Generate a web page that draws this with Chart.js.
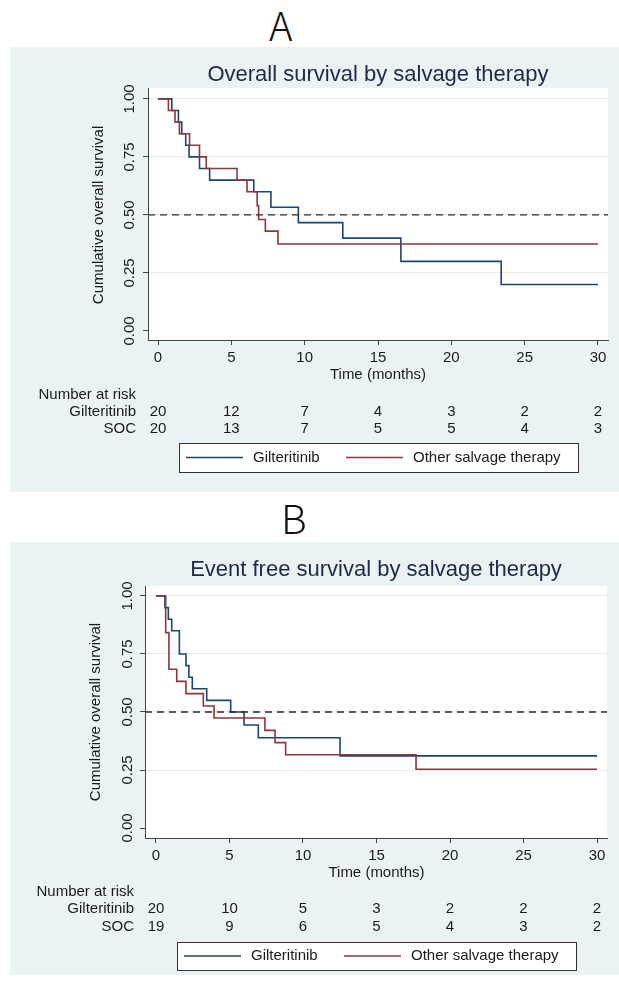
<!DOCTYPE html>
<html>
<head>
<meta charset="utf-8">
<script src="https://cdn.jsdelivr.net/npm/chart.js@4.4.1/dist/chart.umd.min.js"></script>
<style>
  body { margin: 0; width: 619px; height: 985px; background: #fff; position: relative; overflow: hidden; }
  .letter { position: absolute; font-family: "Noto Sans CJK SC", "Noto Sans", sans-serif; font-weight: 300; font-size: 40px; line-height: 40px; color: #111; }
  .panel { position: absolute; left: 10px; width: 609px; background: #eaf2f3; }
  canvas { display: block; }
</style>
</head>
<body>
<div class="letter" style="left:269px; top:4px;">A</div>
<div class="panel" style="top:47px; height:445px;"><canvas id="osChart" width="609" height="445"></canvas></div>
<div class="letter" style="left:281px; top:497px;">B</div>
<div class="panel" style="top:542px; height:433px;"><canvas id="efsChart" width="609" height="433"></canvas></div>

<script>
const timeTicks = [0, 5, 10, 15, 20, 25, 30];
const survTicks = [0, 0.25, 0.5, 0.75, 1];
const survTickLabels = ["0.00", "0.25", "0.50", "0.75", "1.00"];
const seriesNames = ["Gilteritinib", "Other salvage therapy"];
const riskRowLabels = ["Gilteritinib", "SOC"];

// A - overall survival (months, survival after each drop)
const osGilTime = [0, 0.94, 1.39, 1.62, 1.89, 2.12, 2.83, 3.52, 6.53, 7.7, 9.57, 12.6, 16.56, 23.4, 30];
const osGilSurv = [1, 0.95, 0.90, 0.85, 0.80, 0.75, 0.70, 0.65, 0.60, 0.533, 0.467, 0.40, 0.30, 0.20, 0.20];
const osSocTime = [0, 0.71, 1.16, 1.46, 2.15, 2.83, 3.29, 5.39, 6.07, 6.76, 6.86, 7.32, 8.18, 30];
const osSocSurv = [1, 0.95, 0.90, 0.85, 0.80, 0.75, 0.70, 0.65, 0.60, 0.54, 0.48, 0.43, 0.375, 0.375];
const osRiskGil = [20, 12, 7, 4, 3, 2, 2];
const osRiskSoc = [20, 13, 7, 5, 5, 4, 3];

// B - event free survival
const efsGilTime = [0, 0.61, 0.84, 1.07, 1.59, 2.04, 2.24, 2.47, 3.45, 5.08, 5.99, 6.96, 12.52, 30];
const efsGilSurv = [1, 0.95, 0.90, 0.85, 0.75, 0.70, 0.65, 0.60, 0.55, 0.50, 0.444, 0.389, 0.311, 0.311];
const efsSocTime = [0, 0.66, 0.88, 1.41, 2.04, 3.22, 3.95, 7.41, 8.10, 8.82, 17.69, 30];
const efsSocSurv = [1, 0.842, 0.684, 0.632, 0.579, 0.526, 0.474, 0.421, 0.368, 0.316, 0.253, 0.253];
const efsRiskGil = [20, 10, 5, 3, 2, 2, 2];
const efsRiskSoc = [19, 9, 6, 5, 4, 3, 2];

const FONT = '"Liberation Sans", Arial, sans-serif';
const BLUE = "#1a476f";
const RED = "#90353b";
const INK = "#1b1b1b";
const TXT = "15px " + FONT;

function km(times, surv) {
  return times.map((t, i) => ({ x: t, y: surv[i] }));
}

function drawPanel(id, p) {
  const canvas = document.getElementById(id);

  // stata-like extras: white plot region, rotated y labels, titles, risk table, legend box
  const stataLook = {
    id: "stataLook",
    beforeDraw(chart) {
      const a = chart.chartArea, ctx = chart.ctx;
      ctx.save();
      ctx.fillStyle = "#fff";
      ctx.fillRect(a.left, a.top, a.right - a.left, a.bottom - a.top);
      ctx.restore();
    },
    afterDraw(chart) {
      const ctx = chart.ctx;
      const xs = chart.scales.x, ys = chart.scales.y;
      const a = chart.chartArea;
      ctx.save();

      // title
      ctx.fillStyle = "#1c2a48";
      ctx.font = "22px " + FONT;
      ctx.textAlign = "center";
      ctx.textBaseline = "middle";
      ctx.fillText(p.title, (a.left + a.right) / 2, p.titleY);

      // y tick labels, rotated
      ctx.fillStyle = INK;
      ctx.font = TXT;
      survTicks.forEach((v, i) => {
        ctx.save();
        ctx.translate(p.yLabX, ys.getPixelForValue(v));
        ctx.rotate(-Math.PI / 2);
        ctx.fillText(survTickLabels[i], 0, 0);
        ctx.restore();
      });

      // y axis title
      ctx.save();
      ctx.translate(p.yTitleX, (ys.getPixelForValue(0) + ys.getPixelForValue(1)) / 2);
      ctx.rotate(-Math.PI / 2);
      ctx.fillText("Cumulative overall survival", 0, 0);
      ctx.restore();

      // x axis title
      ctx.fillText("Time (months)", xs.getPixelForValue(15), p.xTitleY);

      // number at risk
      ctx.textAlign = "right";
      ctx.fillText("Number at risk", p.rowLabX, p.riskY[0]);
      ctx.fillText(riskRowLabels[0], p.rowLabX, p.riskY[1]);
      ctx.fillText(riskRowLabels[1], p.rowLabX, p.riskY[2]);
      ctx.textAlign = "center";
      timeTicks.forEach((t, i) => {
        const x = xs.getPixelForValue(t);
        ctx.fillText(String(p.riskGil[i]), x, p.riskY[1]);
        ctx.fillText(String(p.riskSoc[i]), x, p.riskY[2]);
      });

      // legend box
      const lg = p.legend;
      ctx.fillStyle = "#fff";
      ctx.fillRect(lg.x, lg.y, lg.w, lg.h);
      ctx.strokeStyle = "#333";
      ctx.lineWidth = 1;
      ctx.strokeRect(lg.x + 0.5, lg.y + 0.5, lg.w, lg.h);
      const cy = lg.y + lg.h / 2;
      ctx.lineWidth = 1.6;
      ctx.strokeStyle = BLUE;
      ctx.beginPath(); ctx.moveTo(lg.x + 7, cy); ctx.lineTo(lg.x + 64, cy); ctx.stroke();
      ctx.strokeStyle = RED;
      ctx.beginPath(); ctx.moveTo(lg.x + 167, cy); ctx.lineTo(lg.x + 224, cy); ctx.stroke();
      ctx.fillStyle = INK;
      ctx.textAlign = "left";
      ctx.fillText(seriesNames[0], lg.x + 74, cy);
      ctx.fillText(seriesNames[1], lg.x + 234, cy);
      ctx.restore();
    }
  };

  new Chart(canvas, {
    type: "line",
    data: {
      datasets: [
        {
          label: "ref",
          data: [{ x: p.xMin, y: 0.5 }, { x: p.xMax, y: 0.5 }],
          borderColor: "#2b2b2b",
          borderDash: [7, 5],
          borderWidth: 1.3,
          pointRadius: 0
        },
        {
          label: seriesNames[1],
          data: km(p.socTime, p.socSurv),
          borderColor: RED,
          borderWidth: 1.6,
          stepped: "before",
          pointRadius: 0,
          fill: false
        },
        {
          label: seriesNames[0],
          data: km(p.gilTime, p.gilSurv),
          borderColor: BLUE,
          borderWidth: 1.6,
          stepped: "before",
          pointRadius: 0,
          fill: false
        }
      ]
    },
    options: {
      responsive: false,
      animation: false,
      layout: { padding: { left: 0, top: p.top, right: canvas.width - p.right, bottom: 0 } },
      plugins: { legend: { display: false }, tooltip: { enabled: false } },
      scales: {
        x: {
          type: "linear",
          min: p.xMin,
          max: p.xMax,
          afterBuildTicks: s => { s.ticks = timeTicks.map(v => ({ value: v })); },
          afterFit: s => { s.height = canvas.height - p.bottom; },
          ticks: { color: INK, font: { size: 15, family: FONT }, padding: 4, maxRotation: 0, autoSkip: false },
          grid: { drawOnChartArea: false, tickLength: 5, tickColor: "#444" },
          border: { color: "#444", width: 1 }
        },
        y: {
          type: "linear",
          min: p.yMin,
          max: p.yMax,
          afterBuildTicks: s => { s.ticks = survTicks.map(v => ({ value: v })); },
          afterFit: s => { s.width = p.left; },
          ticks: { display: false },
          grid: {
            color: c => (c.tick && c.tick.value === 0 ? "rgba(0,0,0,0)" : "#e7edef"),
            tickLength: 5,
            tickColor: "#444"
          },
          border: { color: "#444", width: 1 }
        }
      }
    },
    plugins: [stataLook]
  });
}

document.addEventListener("DOMContentLoaded", function () {
  drawPanel("osChart", {
    title: "Overall survival by salvage therapy",
    gilTime: osGilTime, gilSurv: osGilSurv, socTime: osSocTime, socSurv: osSocSurv,
    riskGil: osRiskGil, riskSoc: osRiskSoc,
    left: 138, right: 598, top: 41, bottom: 293,
    xMin: -0.682, xMax: 30.682, yMin: -0.039, yMax: 1.047,
    titleY: 28, yLabX: 120, yTitleX: 89, xTitleY: 328, rowLabX: 126,
    riskY: [348, 365, 382],
    legend: { x: 169, y: 396, w: 399, h: 29 }
  });
  drawPanel("efsChart", {
    title: "Event free survival by salvage therapy",
    gilTime: efsGilTime, gilSurv: efsGilSurv, socTime: efsSocTime, socSurv: efsSocSurv,
    riskGil: efsRiskGil, riskSoc: efsRiskSoc,
    left: 135, right: 597, top: 44, bottom: 296,
    xMin: -0.748, xMax: 30.68, yMin: -0.043, yMax: 1.043,
    titleY: 28, yLabX: 118, yTitleX: 86, xTitleY: 331, rowLabX: 124,
    riskY: [350, 367, 385],
    legend: { x: 167, y: 400, w: 399, h: 28 }
  });
});
</script>
</body>
</html>
